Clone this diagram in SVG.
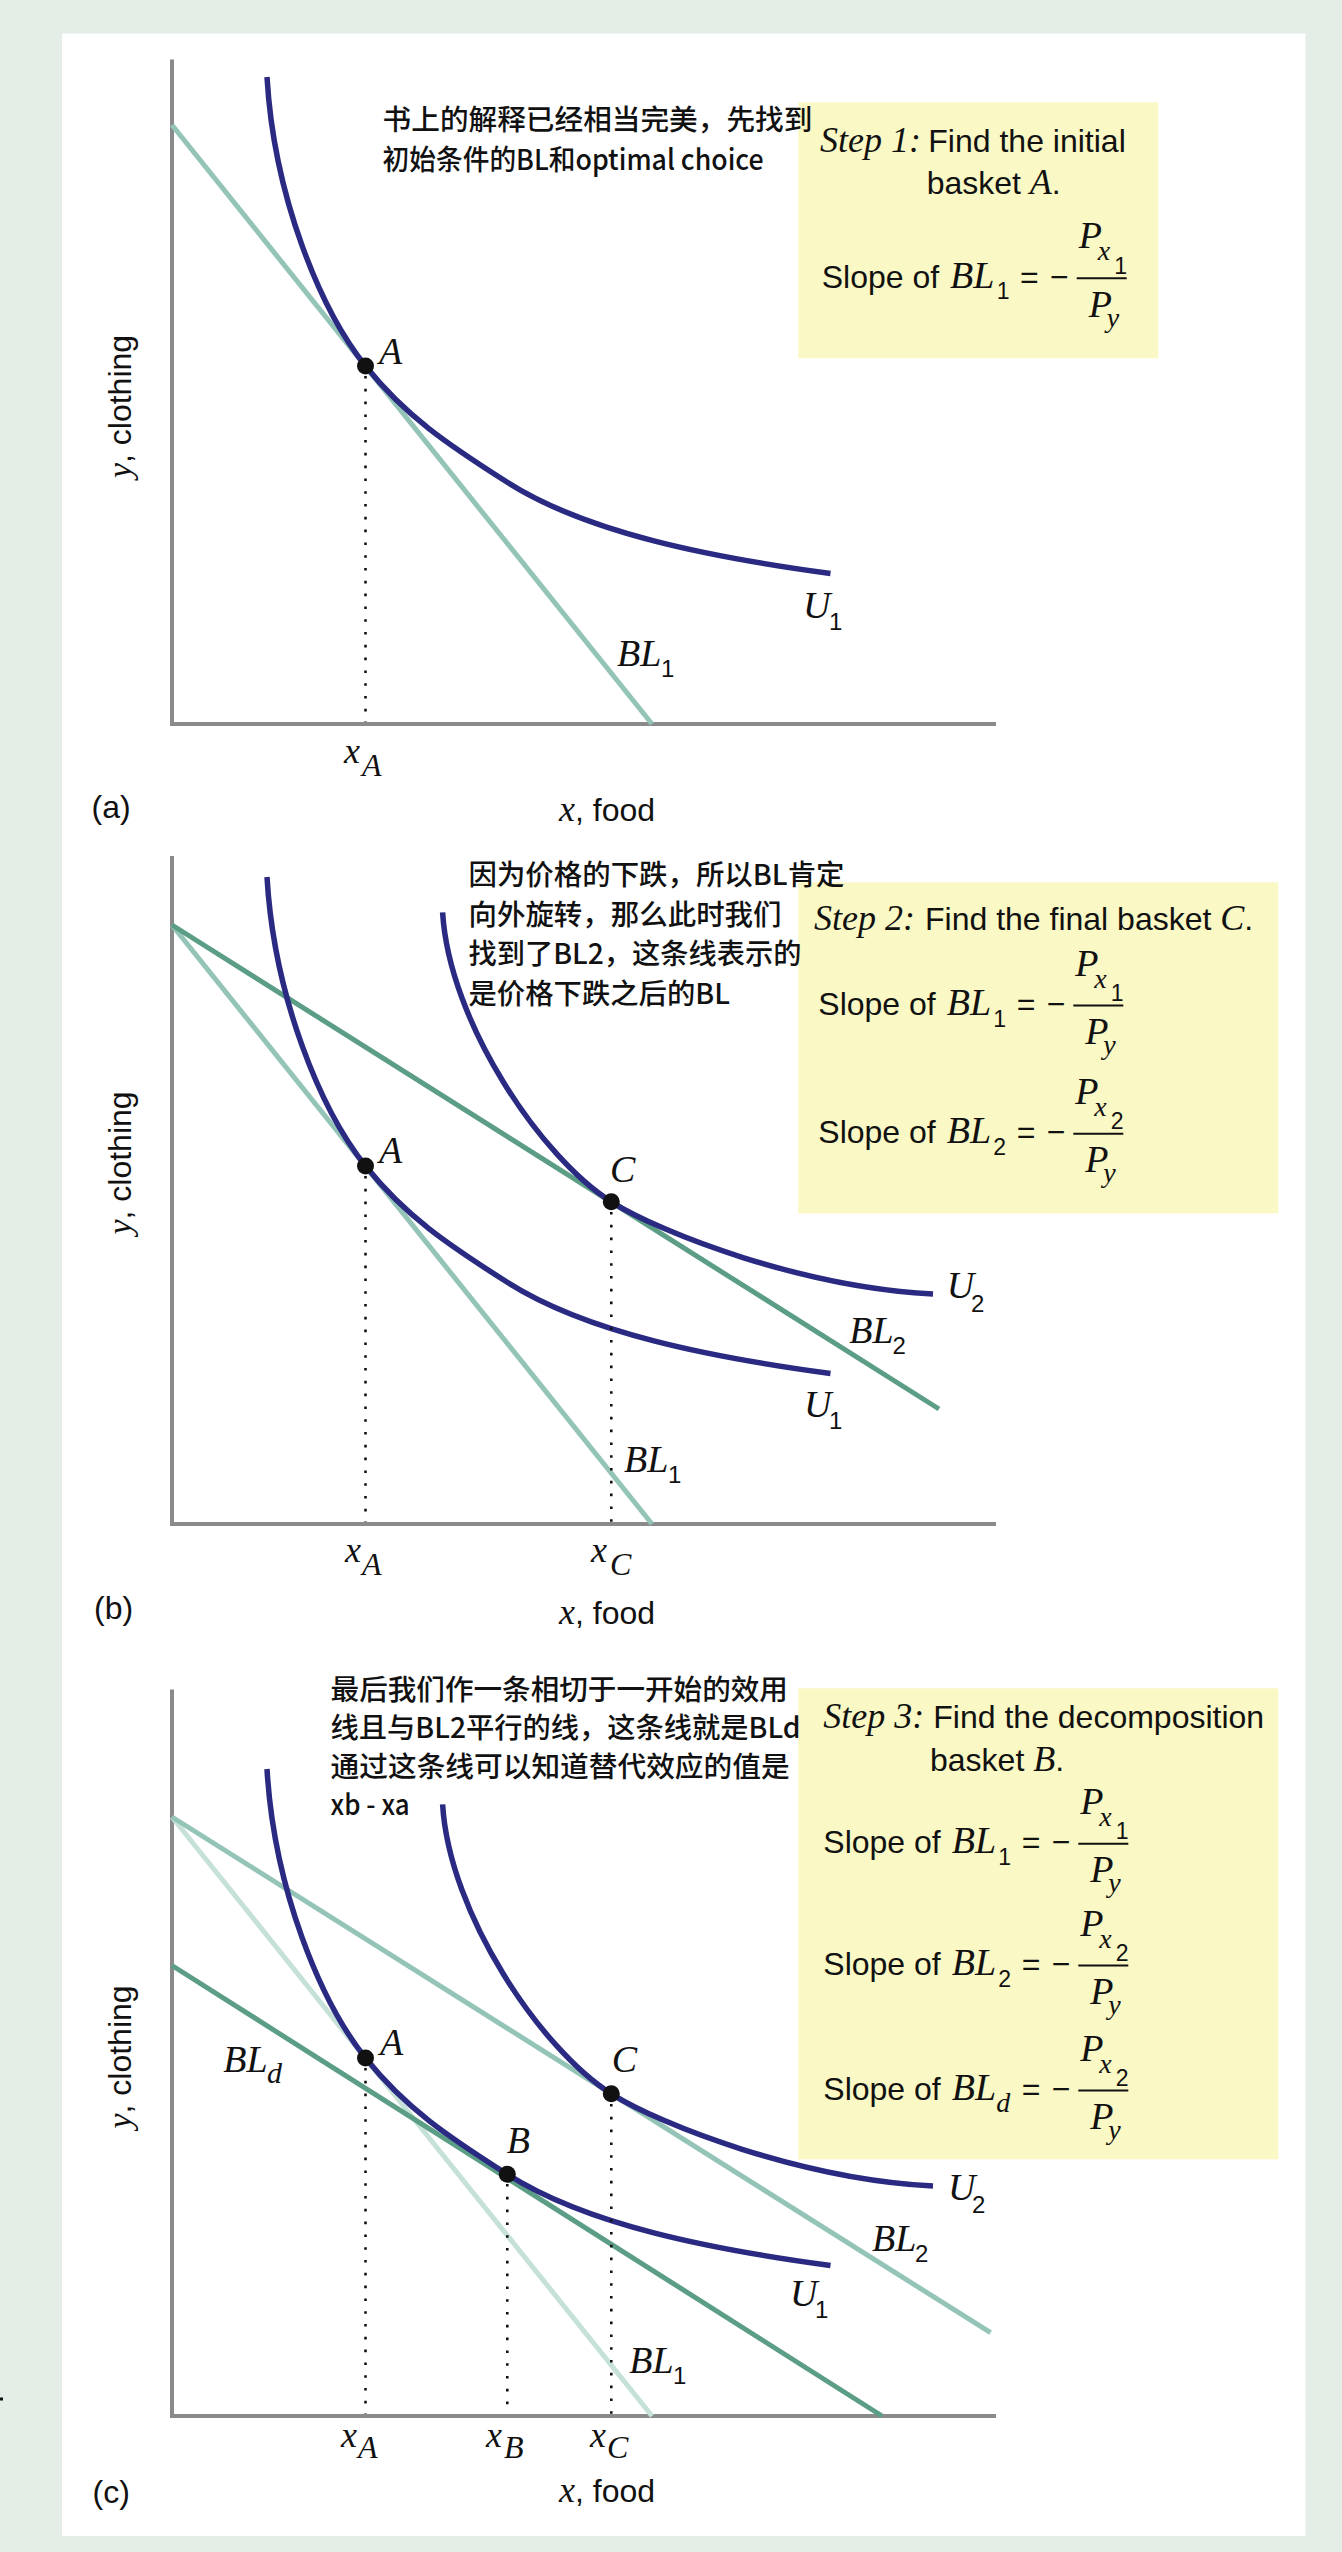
<svg xmlns="http://www.w3.org/2000/svg" xmlns:xlink="http://www.w3.org/1999/xlink" width="1342" height="2552" viewBox="0 0 1342 2552">
<defs>
<style>
.sans{font-family:"Liberation Sans",Arial,sans-serif;fill:#111}
.ser{font-family:"Liberation Serif","Times New Roman",serif;font-style:italic;fill:#111}
.cjk{font-family:"Noto Sans CJK SC","Noto Sans",sans-serif;font-size:28.5px;font-weight:500;fill:#111}
.axis{fill:none;stroke:#8a8a8c;stroke-width:4}
.u{fill:none;stroke:#2a2a82;stroke-width:5.5}
.blA{stroke:#94c4b7;stroke-width:5}
.blB{stroke:#5b9d85;stroke-width:5}
.blC{stroke:#c6e1d8;stroke-width:5}
.dots{stroke:#111;stroke-width:2.6;stroke-dasharray:2.6 10.2}
.pt{fill:#111}
.box{fill:#faf8c4}
.lab{font-size:38px}
.sub{font-size:24px}
.bar{stroke:#111;stroke-width:2}
</style>
<g id="frac1">
<line class="bar" x1="255" y1="-9.5" x2="305" y2="-9.5"/>
<text class="ser" font-size="38" x="257" y="-39.5">P</text>
<text class="ser" font-size="28" x="276" y="-27.5">x</text>
<text class="sans" font-size="23" x="292.5" y="-14">1</text>
<text class="ser" font-size="38" x="267" y="29">P</text>
<text class="ser" font-size="28" x="285" y="39">y</text>
</g>
<g id="frac2">
<line class="bar" x1="255" y1="-9.5" x2="305" y2="-9.5"/>
<text class="ser" font-size="38" x="257" y="-39.5">P</text>
<text class="ser" font-size="28" x="276" y="-27.5">x</text>
<text class="sans" font-size="23" x="292.5" y="-14">2</text>
<text class="ser" font-size="38" x="267" y="29">P</text>
<text class="ser" font-size="28" x="285" y="39">y</text>
</g>
<g id="lhs">
<text class="sans" font-size="32" x="0" y="0">Slope of</text>
<text class="ser" font-size="38" x="128.4" y="0">BL</text>
<text class="sans" font-size="32" x="198.4" y="0">=</text>
<text class="sans" font-size="32" x="228.4" y="0">−</text>
</g>
<g id="row1"><use xlink:href="#lhs"/><text class="sans" font-size="23" x="175" y="11.7">1</text><use xlink:href="#frac1"/></g>
<g id="row2"><use xlink:href="#lhs"/><text class="sans" font-size="23" x="175" y="11.7">2</text><use xlink:href="#frac2"/></g>
<g id="rowd"><use xlink:href="#lhs"/><text class="ser" font-size="28" x="173" y="11.7">d</text><use xlink:href="#frac2"/></g>
<path id="curveU1" d="M267,77 C274,197 320.5,309.75 365.5,366 C405.5,416 447.3,444.2 507.3,482.3 C587.3,533.1 710.5,557.3 830.5,573.5"/>
<path id="curveU2" d="M442.6,112.4 C449.2,222.4 541.3,357.7 611.3,401.8 C661.3,433.3 803,487.5 933,494"/>
</defs>

<rect x="0" y="0" width="1342" height="2552" fill="#e4ede6"/>
<rect x="62" y="33.5" width="1243.5" height="2502.5" fill="#ffffff"/>
<rect x="0" y="2397.5" width="3" height="3" fill="#111"/>

<!-- Panel (a) -->
<g id="panel-a">
<g id="a-axes"><path class="axis" d="M172,59.6 V724 H996"/></g>
<g id="a-connectors">
<line class="blA" x1="172" y1="125" x2="652" y2="724"/>
<use xlink:href="#curveU1" class="u"/>
<line class="dots" x1="365.5" y1="376" x2="365.5" y2="722"/>
</g>
<g id="a-node-A"><circle class="pt" cx="365.5" cy="366" r="8.5"/><text class="ser lab" x="379" y="364">A</text></g>
<g id="a-labels">
<text class="ser lab" x="803" y="618">U</text><text class="sans sub" x="829" y="630">1</text>
<text class="ser lab" x="617" y="666">BL</text><text class="sans sub" x="661" y="677">1</text>
<text class="ser" font-size="36" x="344" y="762.7">x</text><text class="ser" font-size="32" x="362" y="776">A</text>
<text x="559" y="821"><tspan class="ser" font-size="36">x</tspan><tspan class="sans" font-size="32">, food</tspan></text>
<text class="sans" font-size="32" x="91.5" y="818.3">(a)</text>
<g transform="translate(131,406.5) rotate(-90)"><text text-anchor="middle"><tspan class="ser" font-size="34">y</tspan><tspan class="sans" font-size="32">, clothing</tspan></text></g>
</g>
<g id="a-step-box">
<rect class="box" x="798.3" y="102.3" width="360" height="256"/>
<text class="ser" font-size="36" x="820" y="152.3">Step 1:</text>
<text class="sans" font-size="32" x="928.3" y="152.3">Find the initial</text>
<text class="sans" font-size="32" x="926.7" y="194.3">basket <tspan class="ser" font-size="36">A</tspan>.</text>
<use xlink:href="#row1" x="821.7" y="287.7"/>
</g>
<g id="a-note">
<text class="cjk" x="382.6" y="130" textLength="429.8" lengthAdjust="spacingAndGlyphs">书上的解释已经相当完美，先找到</text>
<text class="cjk" x="382.6" y="170" textLength="381" lengthAdjust="spacingAndGlyphs">初始条件的BL和optimal choice</text>
</g>
</g>

<!-- Panel (b) -->
<g id="panel-b" transform="translate(0,800)">
<g id="b-axes"><path class="axis" d="M172,56 V724 H996"/></g>
<g id="b-connectors">
<line class="blA" x1="172" y1="125" x2="652" y2="724"/>
<line class="blB" x1="172" y1="125" x2="939" y2="609"/>
<use xlink:href="#curveU1" class="u"/>
<use xlink:href="#curveU2" class="u"/>
<line class="dots" x1="365.5" y1="376" x2="365.5" y2="722"/>
<line class="dots" x1="611.3" y1="412" x2="611.3" y2="722"/>
</g>
<g id="b-node-A"><circle class="pt" cx="365.5" cy="366" r="8.5"/><text class="ser lab" x="379" y="363">A</text></g>
<g id="b-node-C"><circle class="pt" cx="611.3" cy="401.8" r="8.5"/><text class="ser lab" x="610" y="382">C</text></g>
<g id="b-labels">
<text class="ser lab" x="946.7" y="498.3">U</text><text class="sans sub" x="971" y="511.7">2</text>
<text class="ser lab" x="849.3" y="543.3">BL</text><text class="sans sub" x="892.5" y="554">2</text>
<text class="ser lab" x="804" y="617.3">U</text><text class="sans sub" x="829" y="629.3">1</text>
<text class="ser lab" x="624" y="672">BL</text><text class="sans sub" x="668" y="683">1</text>
<text class="ser" font-size="36" x="345" y="761.7">x</text><text class="ser" font-size="32" x="362" y="775">A</text>
<text class="ser" font-size="36" x="591" y="761.7">x</text><text class="ser" font-size="32" x="610" y="775">C</text>
<text x="559" y="824"><tspan class="ser" font-size="36">x</tspan><tspan class="sans" font-size="32">, food</tspan></text>
<text class="sans" font-size="32" x="94" y="818.6">(b)</text>
<g transform="translate(131,363) rotate(-90)"><text text-anchor="middle"><tspan class="ser" font-size="34">y</tspan><tspan class="sans" font-size="32">, clothing</tspan></text></g>
</g>
<g id="b-step-box">
<rect class="box" x="798.3" y="82.3" width="480" height="331"/>
<text class="ser" font-size="36" x="814" y="130">Step 2:</text>
<text class="sans" font-size="32" x="925" y="130">Find the final basket <tspan class="ser" font-size="36">C</tspan>.</text>
<use xlink:href="#row1" x="818.3" y="215"/>
<use xlink:href="#row2" x="818.3" y="343.3"/>
</g>
<g id="b-note">
<text class="cjk" x="468.5" y="85" textLength="376" lengthAdjust="spacingAndGlyphs">因为价格的下跌，所以BL肯定</text>
<text class="cjk" x="468.5" y="124.5" textLength="313" lengthAdjust="spacingAndGlyphs">向外旋转，那么此时我们</text>
<text class="cjk" x="468.5" y="164" textLength="333" lengthAdjust="spacingAndGlyphs">找到了BL2，这条线表示的</text>
<text class="cjk" x="468.5" y="203.5" textLength="261.5" lengthAdjust="spacingAndGlyphs">是价格下跌之后的BL</text>
</g>
</g>

<!-- Panel (c) -->
<g id="panel-c" transform="translate(0,1692)">
<g id="c-axes"><path class="axis" d="M172,-2.4 V724 H996"/></g>
<g id="c-connectors">
<line class="blC" x1="172" y1="125" x2="652" y2="724"/>
<line class="blA" x1="172" y1="125" x2="990.6" y2="640.7"/>
<line class="blB" x1="172" y1="273.5" x2="882" y2="724"/>
<use xlink:href="#curveU1" class="u"/>
<use xlink:href="#curveU2" class="u"/>
<line class="dots" x1="365.5" y1="376" x2="365.5" y2="722"/>
<line class="dots" x1="507.3" y1="492" x2="507.3" y2="722"/>
<line class="dots" x1="611.3" y1="412" x2="611.3" y2="722"/>
</g>
<g id="c-node-A"><circle class="pt" cx="365.5" cy="366" r="8.5"/><text class="ser lab" x="380" y="363">A</text></g>
<g id="c-node-B"><circle class="pt" cx="507.3" cy="482.3" r="8.5"/><text class="ser lab" x="506.7" y="461.3">B</text></g>
<g id="c-node-C"><circle class="pt" cx="611.3" cy="401.8" r="8.5"/><text class="ser lab" x="611.7" y="379.7">C</text></g>
<g id="c-labels">
<text class="ser lab" x="223.3" y="379.7">BL</text><text class="ser" font-size="30" x="267" y="391.3">d</text>
<text class="ser lab" x="948" y="508">U</text><text class="sans sub" x="972" y="521">2</text>
<text class="ser lab" x="872" y="559">BL</text><text class="sans sub" x="915" y="570">2</text>
<text class="ser lab" x="790" y="614">U</text><text class="sans sub" x="815" y="626">1</text>
<text class="ser lab" x="629.3" y="680.7">BL</text><text class="sans sub" x="673" y="691.7">1</text>
<text class="ser" font-size="36" x="341" y="754.7">x</text><text class="ser" font-size="32" x="358" y="766.3">A</text>
<text class="ser" font-size="36" x="486" y="754.7">x</text><text class="ser" font-size="32" x="504" y="766.3">B</text>
<text class="ser" font-size="36" x="590" y="754.7">x</text><text class="ser" font-size="32" x="607" y="766.3">C</text>
<text x="559" y="810"><tspan class="ser" font-size="36">x</tspan><tspan class="sans" font-size="32">, food</tspan></text>
<text class="sans" font-size="32" x="92.5" y="811">(c)</text>
<g transform="translate(131,365) rotate(-90)"><text text-anchor="middle"><tspan class="ser" font-size="34">y</tspan><tspan class="sans" font-size="32">, clothing</tspan></text></g>
</g>
<g id="c-step-box">
<rect class="box" x="798.3" y="-3.7" width="480" height="471"/>
<text class="ser" font-size="36" x="823.3" y="36.3">Step 3:</text>
<text class="sans" font-size="32" x="933.3" y="36.3">Find the decomposition</text>
<text class="sans" font-size="32" x="930" y="78.7">basket <tspan class="ser" font-size="36">B</tspan>.</text>
<use xlink:href="#row1" x="823.3" y="161.3"/>
<use xlink:href="#row2" x="823.3" y="283"/>
<use xlink:href="#rowd" x="823.3" y="408"/>
</g>
<g id="c-note">
<text class="cjk" x="330.6" y="8" textLength="457.3" lengthAdjust="spacingAndGlyphs">最后我们作一条相切于一开始的效用</text>
<text class="cjk" x="330.6" y="46.3" textLength="470" lengthAdjust="spacingAndGlyphs">线且与BL2平行的线，这条线就是BLd</text>
<text class="cjk" x="330.6" y="84.6" textLength="459" lengthAdjust="spacingAndGlyphs">通过这条线可以知道替代效应的值是</text>
<text class="cjk" x="330.6" y="123" textLength="79" lengthAdjust="spacingAndGlyphs">xb - xa</text>
</g>
</g>
</svg>
